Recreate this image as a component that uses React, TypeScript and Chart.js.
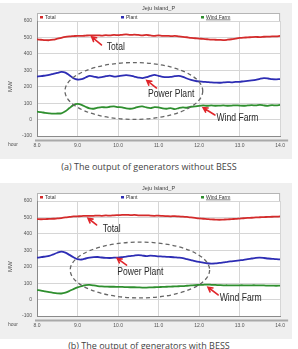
import React, { useEffect, useRef } from "react";
import { Chart, registerables } from "chart.js";

Chart.register(...registerables);

// Time axis (hours) shared by both panels
const HOURS = [
  8.0, 8.1, 8.2, 8.3, 8.4, 8.5, 8.6, 8.7, 8.8, 8.9,
  9.0, 9.1, 9.2, 9.3, 9.4, 9.5, 9.6, 9.7, 9.8, 9.9,
  10.0, 10.1, 10.2, 10.3, 10.4, 10.5, 10.6, 10.7, 10.8, 10.9,
  11.0, 11.1, 11.2, 11.3, 11.4, 11.5, 11.6, 11.7, 11.8, 11.9,
  12.0, 12.1, 12.2, 12.3, 12.4, 12.5, 12.6, 12.7, 12.8, 12.9,
  13.0, 13.1, 13.2, 13.3, 13.4, 13.5, 13.6, 13.7, 13.8, 13.9, 14.0,
];

// (a) without BESS, MW
const TOTAL_A = [
  488, 486, 484, 483, 486, 492, 498, 503, 506, 508,
  510, 509, 511, 513, 512, 513, 511, 514, 512, 515,
  514, 516, 518, 515, 517, 515, 513, 515, 512, 510,
  512, 509, 510, 508, 509, 506, 504, 501, 497, 495,
  493, 491, 489, 487, 486, 485, 484, 486, 489, 493,
  497, 499, 500, 502, 503, 502, 504, 505, 506, 507, 509,
];
const PLANT_A = [
  262, 264, 268, 272, 278, 284, 290, 286, 270, 252,
  244, 246, 256, 266, 262, 256, 258, 264, 268, 262,
  264, 268, 270, 268, 262, 256, 252, 258, 266, 272,
  266, 260, 258, 260, 264, 266, 260, 250, 242, 236,
  232, 230, 228, 226, 225, 224, 226, 228, 227, 229,
  230, 233, 235, 238, 242, 248, 252, 250, 246, 245, 246,
];
const WIND_A = [
  48, 45, 41, 38, 36, 37, 38, 50, 70, 88,
  95, 90, 78, 68, 66, 72, 76, 74, 78, 80,
  76, 74, 68, 66, 70, 78, 80, 74, 70, 76,
  74, 68, 66, 70, 64, 70, 74, 72, 78, 80,
  84, 86, 84, 86, 84, 85, 86, 84, 85, 87,
  85, 84, 86, 88, 86, 90, 86, 84, 88, 86, 90,
];

// (b) with BESS, MW
const TOTAL_B = [
  490, 489, 490, 491, 492, 494, 496, 500, 503, 506,
  507, 508, 510, 509, 510, 511, 510, 512, 511, 513,
  514, 515, 516, 514, 515, 513, 512, 513, 511, 510,
  511, 509, 508, 507, 508, 506, 505, 503, 500, 497,
  494, 492, 490, 488, 487, 486, 487, 488, 490, 491,
  493, 495, 497, 498, 500, 501, 502, 503, 504, 505, 506,
];
const PLANT_B = [
  255, 258, 262, 266, 275, 285, 292, 286, 272, 258,
  246, 244, 250, 255, 258, 259, 256, 254, 253, 255,
  255, 258, 262, 265, 268, 270, 268, 265, 268, 266,
  263, 262, 260, 259, 257, 255, 252, 246, 240, 234,
  229, 225, 221, 219, 220, 223, 226, 230, 233, 236,
  239, 242, 246, 250, 254, 255, 253, 250, 248, 246, 245,
];
const WIND_B = [
  58, 55, 50, 45, 41, 38, 37, 42, 52, 64,
  74, 82, 88, 89, 86, 82, 80, 79, 78, 78,
  77, 77, 76, 75, 75, 74, 73, 73, 74, 75,
  76, 77, 78, 79, 80, 81, 82, 84, 86, 88,
  89, 90, 91, 90, 89, 88, 87, 87, 86, 86,
  87, 87, 86, 87, 87, 86, 86, 85, 85, 84, 85,
];

const SERIES_NAMES = ["Total", "Plant", "Wind Farm"];
const SERIES_COLORS = ["#d42b2b", "#2d2db4", "#2f8f2f"];

// Callouts in data units: [hour, MW]
type Note = { text: string; tip: [number, number]; tail: [number, number]; at: [number, number] };
type Ring = { cx: number; cy: number; rx: number; ry: number };

const RING_A: Ring = { cx: 10.39, cy: 174, rx: 1.7, ry: 173 };
const NOTES_A: Note[] = [
  { text: "Total", tip: [9.35, 504], tail: [9.59, 454], at: [9.72, 440] },
  { text: "Power Plant", tip: [10.71, 238], tail: [10.95, 192], at: [10.74, 156] },
  { text: "Wind Farm", tip: [12.1, 72], tail: [12.39, 28], at: [12.43, 8] },
];
const RING_B: Ring = { cx: 10.54, cy: 180, rx: 1.72, ry: 170 };
const NOTES_B: Note[] = [
  { text: "Total", tip: [9.26, 495], tail: [9.47, 454], at: [9.62, 430] },
  { text: "Power Plant", tip: [9.98, 251], tail: [10.21, 210], at: [9.98, 170] },
  { text: "Wind Farm", tip: [12.22, 75], tail: [12.47, 28], at: [12.51, 11] },
];

const W = 292;
const H = 156;
const SMALL = "Liberation Sans, Arial, sans-serif";

function makeDecor(ring: Ring, notes: Note[]) {
  return {
    id: "decor",
    beforeDraw(chart: any) {
      const { ctx, chartArea: a } = chart;
      ctx.save();
      // plot background
      ctx.fillStyle = "#ffffff";
      ctx.fillRect(a.left, a.top, a.right - a.left, a.bottom - a.top);

      // title
      ctx.fillStyle = "#444";
      ctx.font = `5.5px ${SMALL}`;
      ctx.textAlign = "center";
      ctx.textBaseline = "middle";
      ctx.fillText("Jeju Island_P", (a.left + a.right) / 2, 5);

      // legend strip
      const ly = a.top - 8;
      ctx.fillStyle = "#ffffff";
      ctx.fillRect(a.left, ly, a.right - a.left, 8);
      ctx.strokeStyle = "#b5b5b5";
      ctx.lineWidth = 1;
      ctx.strokeRect(a.left + 0.5, ly + 0.5, a.right - a.left - 1, 8);
      const slots = [a.left + 3, a.left + 84, a.left + 164];
      ctx.textAlign = "left";
      ctx.font = `5px ${SMALL}`;
      SERIES_NAMES.forEach((name, i) => {
        ctx.fillStyle = SERIES_COLORS[i];
        ctx.fillRect(slots[i], ly + 3, 3, 2.5);
        ctx.fillStyle = "#333";
        ctx.fillText(name, slots[i] + 5, ly + 4.3);
        if (i === 2) {
          const tw = ctx.measureText(name).width;
          ctx.fillRect(slots[i] + 5, ly + 6.6, tw, 0.6);
        }
      });

      // axis captions
      ctx.fillStyle = "#555";
      ctx.font = `5px ${SMALL}`;
      ctx.fillText("hour", 8, a.bottom + 8.5);
      ctx.save();
      ctx.translate(10, chart.scales.y.getPixelForValue(200));
      ctx.rotate(-Math.PI / 2);
      ctx.textAlign = "center";
      ctx.font = `6px ${SMALL}`;
      ctx.fillText("MW", 0, 0);
      ctx.restore();

      // bar under the time axis
      ctx.strokeStyle = "#a9a9a9";
      ctx.lineWidth = 2;
      ctx.beginPath();
      ctx.moveTo(a.left - 2, a.bottom + 4.5);
      ctx.lineTo(a.right + 8, a.bottom + 4.5);
      ctx.stroke();
      ctx.restore();
    },
    afterDatasetsDraw(chart: any) {
      const { ctx } = chart;
      const xs = chart.scales.x;
      const ys = chart.scales.y;
      const px = (h: number) => xs.getPixelForValue(h);
      const py = (v: number) => ys.getPixelForValue(v);
      ctx.save();

      // dashed ring around the plant trace
      const cx = px(ring.cx);
      const cy = py(ring.cy);
      const rx = px(ring.cx + ring.rx) - cx;
      const ry = cy - py(ring.cy + ring.ry);
      ctx.setLineDash([4, 3]);
      ctx.strokeStyle = "#666";
      ctx.lineWidth = 1.3;
      ctx.beginPath();
      ctx.ellipse(cx, cy, rx, ry, 0, 0, Math.PI * 2);
      ctx.stroke();
      ctx.setLineDash([]);

      // red arrows with labels
      notes.forEach((n) => {
        const tx = px(n.tip[0]);
        const ty = py(n.tip[1]);
        const sx = px(n.tail[0]);
        const sy = py(n.tail[1]);
        ctx.strokeStyle = "#e0262b";
        ctx.lineWidth = 1.6;
        ctx.lineCap = "round";
        ctx.beginPath();
        ctx.moveTo(sx, sy);
        ctx.lineTo(tx, ty);
        const ang = Math.atan2(ty - sy, tx - sx);
        const hl = 5;
        ctx.moveTo(tx - hl * Math.cos(ang - 0.5), ty - hl * Math.sin(ang - 0.5));
        ctx.lineTo(tx, ty);
        ctx.lineTo(tx - hl * Math.cos(ang + 0.5), ty - hl * Math.sin(ang + 0.5));
        ctx.stroke();

        ctx.save();
        ctx.translate(px(n.at[0]), py(n.at[1]));
        ctx.scale(0.78, 1);
        ctx.fillStyle = "#2a2a2a";
        ctx.font = `11px ${SMALL}`;
        ctx.textAlign = "left";
        ctx.textBaseline = "middle";
        ctx.fillText(n.text, 0, 0);
        ctx.restore();
      });
      ctx.restore();
    },
  };
}

function Panel(props: { top: number; series: number[][]; ring: Ring; notes: Note[] }) {
  const ref = useRef<HTMLCanvasElement>(null);
  useEffect(() => {
    const canvas = ref.current;
    if (!canvas) return;
    const chart = new Chart(canvas, {
      type: "line",
      data: {
        datasets: props.series.map((vals, i) => ({
          label: SERIES_NAMES[i],
          data: HOURS.map((h, k) => ({ x: h, y: vals[k] })),
          borderColor: SERIES_COLORS[i],
          borderWidth: 1.8,
          pointRadius: 0,
          tension: 0.3,
          fill: false,
        })),
      },
      options: {
        responsive: false,
        animation: false,
        devicePixelRatio: 1,
        layout: { padding: { top: 18, right: 11.5, bottom: 0, left: 0 } },
        plugins: { legend: { display: false }, tooltip: { enabled: false }, title: { display: false } },
        scales: {
          x: {
            type: "linear",
            min: 8,
            max: 14,
            afterFit: (s: any) => {
              s.height = 23;
            },
            ticks: {
              stepSize: 1,
              padding: 7,
              color: "#555",
              font: { size: 5, family: SMALL },
              callback: (v: any) => Number(v).toFixed(1),
              maxRotation: 0,
            },
            grid: { color: "#d6d6d6", drawTicks: false, lineWidth: 1 },
            border: { color: "#8a8a8a" },
          },
          y: {
            min: -100,
            max: 600,
            afterFit: (s: any) => {
              s.width = 37;
            },
            ticks: {
              stepSize: 100,
              padding: 5,
              color: "#555",
              font: { size: 5, family: SMALL },
            },
            grid: { color: "#d6d6d6", drawTicks: false, lineWidth: 1 },
            border: { color: "#8a8a8a" },
          },
        },
      },
      plugins: [makeDecor(props.ring, props.notes)],
    });
    return () => chart.destroy();
  }, []);
  return (
    <div style={{ position: "absolute", left: 0, top: props.top, width: W, height: H, background: "#efefef" }}>
      <canvas ref={ref} width={W} height={H} style={{ display: "block", width: W, height: H }} />
    </div>
  );
}

const captionStyle: React.CSSProperties = {
  position: "absolute",
  left: 0,
  width: 298,
  textAlign: "center",
  fontFamily: "'Open Sans', sans-serif",
  fontSize: 9,
  lineHeight: "12px",
  color: "#444",
  whiteSpace: "nowrap",
};

export default function App() {
  useEffect(() => {
    document.body.style.margin = "0";
  }, []);
  return (
    <div style={{ position: "relative", width: 298, height: 349, background: "#fff", overflow: "hidden" }}>
      <Panel top={3} series={[TOTAL_A, PLANT_A, WIND_A]} ring={RING_A} notes={NOTES_A} />
      <div style={{ ...captionStyle, top: 161 }}>(a) The output of generators without BESS</div>
      <Panel top={183} series={[TOTAL_B, PLANT_B, WIND_B]} ring={RING_B} notes={NOTES_B} />
      <div style={{ ...captionStyle, top: 340 }}>(b) The output of generators with BESS</div>
    </div>
  );
}
